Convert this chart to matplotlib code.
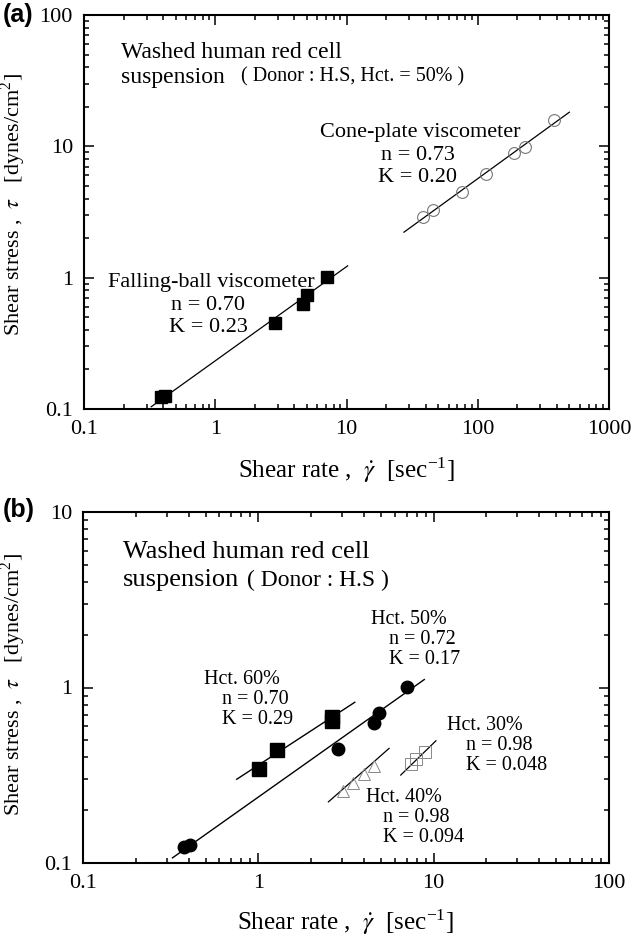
import matplotlib
matplotlib.use("Agg")
import matplotlib.pyplot as plt
from matplotlib.ticker import FuncFormatter, LogLocator, NullFormatter

plt.rcParams["font.family"] = ["Liberation Serif", "DejaVu Serif"]
plt.rcParams["mathtext.fontset"] = "stix"

# ---- panel (a): one suspension, two viscometers ----
falling_x = [0.385, 0.415, 2.87, 4.68, 5.03, 7.05]
falling_y = [0.123, 0.126, 0.45, 0.63, 0.735, 1.02]
falling_fit_x = [0.325, 10.2]
falling_fit_y = [0.104, 1.23]

cone_x = [38, 46, 75.5, 115, 189, 229, 384]
cone_y = [2.88, 3.28, 4.52, 6.17, 8.85, 9.95, 15.9]
cone_fit_x = [27.4, 499]
cone_fit_y = [2.22, 18.2]

# ---- panel (b): different haematocrits ----
hct60_x = [1.01, 1.28, 2.62, 2.62]
hct60_y = [0.343, 0.44, 0.647, 0.68]
hct60_fit_x = [0.753, 3.55]
hct60_fit_y = [0.30, 0.824]

hct50_x = [0.378, 0.41, 2.85, 4.58, 4.88, 7.0]
hct50_y = [0.123, 0.127, 0.446, 0.625, 0.719, 1.01]
hct50_fit_x = [0.324, 8.84]
hct50_fit_y = [0.107, 1.11]

hct40_x = [3.04, 3.47, 4.01, 4.57]
hct40_y = [0.257, 0.286, 0.321, 0.357]
hct40_fit_x = [2.51, 5.57]
hct40_fit_y = [0.223, 0.45]

hct30_x = [7.43, 7.88, 8.87]
hct30_y = [0.366, 0.391, 0.429]
hct30_fit_x = [6.49, 10.3]
hct30_fit_y = [0.317, 0.497]

W, H = 632, 941
fig = plt.figure(figsize=(W / 100, H / 100), dpi=100)


def axes_px(left, right, top, bottom):
    return fig.add_axes([left / W, 1 - bottom / H, (right - left) / W, (bottom - top) / H])


def style_axes(ax, xlim, ylim):
    ax.set_xscale("log")
    ax.set_yscale("log")
    ax.set_xlim(*xlim)
    ax.set_ylim(*ylim)
    for sp in ax.spines.values():
        sp.set_linewidth(1.5)
    ax.tick_params(which="both", direction="in", top=True, right=True, width=1.1)
    ax.tick_params(which="major", length=7, labelsize=16, pad=8,
                   labelfontfamily="Liberation Serif")
    ax.tick_params(which="minor", length=3.8)
    ax.xaxis.set_major_locator(LogLocator(base=10))
    ax.yaxis.set_major_locator(LogLocator(base=10))
    fmt = FuncFormatter(lambda v, p: f"{v:g}")
    ax.xaxis.set_major_formatter(fmt)
    ax.yaxis.set_major_formatter(fmt)
    ax.xaxis.set_minor_formatter(NullFormatter())
    ax.yaxis.set_minor_formatter(NullFormatter())
    ax.set_xlabel(r"Shear rate ,  $\dot{\gamma}$  [sec$^{\mathregular{-1}}$]", fontsize=18)
    ax.set_ylabel(r"Shear stress ,  $\tau$   [dynes/cm$^{\mathregular{2}}$]", fontsize=16)


def put(ax, box, x, y, s, size, ha="left"):
    left, right, top, bottom = box
    ax.text((x - left) / (right - left), (bottom - y) / (bottom - top), s,
            transform=ax.transAxes, fontsize=size, ha=ha, va="center")


# ---------------- panel (a) ----------------
box_a = (84, 609, 15, 409)
ax = axes_px(*box_a)
style_axes(ax, (0.1, 1000), (0.1, 100))
ax.xaxis.set_label_coords(0.5, (409 - 455) / 394)
ax.yaxis.set_label_coords((28 - 84) / 525, 0.52)

ax.plot(falling_fit_x, falling_fit_y, color="black", lw=0.9)
ax.plot(falling_x, falling_y, "s", color="black", ms=8.5)
ax.plot(cone_fit_x, cone_fit_y, color="black", lw=0.9)
ax.plot(cone_x, cone_y, "o", mfc="none", mec="#777777", mew=0.8, ms=8.5)

put(ax, box_a, 121, 52, "Washed human red cell", 17)
put(ax, box_a, 121, 77, "suspension", 17)
put(ax, box_a, 241, 77, "( Donor : H.S, Hct. = 50% )", 14.5)
put(ax, box_a, 420, 133, "Cone-plate viscometer", 16, "center")
put(ax, box_a, 418, 155, "n = 0.73", 16, "center")
put(ax, box_a, 418, 177, "K = 0.20", 16, "center")
put(ax, box_a, 211, 283, "Falling-ball viscometer", 16, "center")
put(ax, box_a, 208, 305, "n = 0.70", 16, "center")
put(ax, box_a, 208, 327, "K = 0.23", 16, "center")

fig.text(3 / W, 1 - 15 / H, "(a)", family="Liberation Sans", fontweight="bold",
         fontsize=18, va="center", ha="left")

# ---------------- panel (b) ----------------
box_b = (83, 609, 512, 863)
bx = axes_px(*box_b)
style_axes(bx, (0.1, 100), (0.1, 10))
bx.xaxis.set_label_coords(0.5, (863 - 907) / 351)
bx.yaxis.set_label_coords((28 - 83) / 526, 0.51)

bx.plot(hct60_fit_x, hct60_fit_y, color="black", lw=1.0)
bx.plot(hct60_x, hct60_y, "s", color="black", ms=9.5)
bx.plot(hct50_fit_x, hct50_fit_y, color="black", lw=1.0)
bx.plot(hct50_x, hct50_y, "o", color="black", ms=9)
bx.plot(hct40_fit_x, hct40_fit_y, color="black", lw=0.9)
bx.plot(hct40_x, hct40_y, "^", mfc="none", mec="#888888", mew=0.7, ms=9)
bx.plot(hct30_fit_x, hct30_fit_y, color="black", lw=0.9)
bx.plot(hct30_x, hct30_y, "s", mfc="none", mec="#888888", mew=0.7, ms=9)

put(bx, box_b, 123, 552, "Washed human red cell", 19)
put(bx, box_b, 123, 580, "suspension", 19)
put(bx, box_b, 247, 580, "( Donor : H.S )", 17)
put(bx, box_b, 371, 619, "Hct. 50%", 14.5)
put(bx, box_b, 389, 640, "n = 0.72", 14.5)
put(bx, box_b, 389, 660, "K = 0.17", 14.5)
put(bx, box_b, 204, 680, "Hct. 60%", 14.5)
put(bx, box_b, 222, 700, "n = 0.70", 14.5)
put(bx, box_b, 222, 720, "K = 0.29", 14.5)
put(bx, box_b, 447, 726, "Hct. 30%", 14.5)
put(bx, box_b, 466, 746, "n = 0.98", 14.5)
put(bx, box_b, 466, 766, "K = 0.048", 14.5)
put(bx, box_b, 366, 798, "Hct. 40%", 14.5)
put(bx, box_b, 383, 818, "n = 0.98", 14.5)
put(bx, box_b, 383, 838, "K = 0.094", 14.5)

fig.text(3 / W, 1 - 510 / H, "(b)", family="Liberation Sans", fontweight="bold",
         fontsize=18, va="center", ha="left")

fig.savefig("out.png", dpi=100)
